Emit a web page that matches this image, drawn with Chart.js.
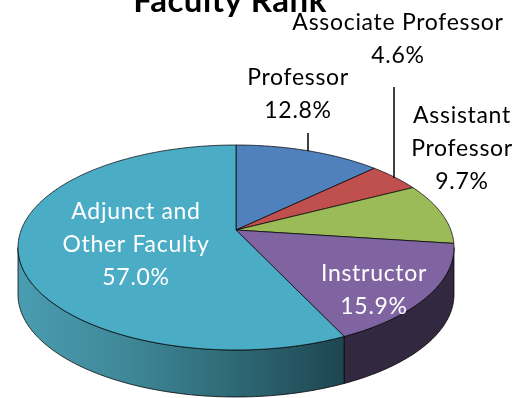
<!DOCTYPE html>
<html>
<head>
<meta charset="utf-8">
<script src="https://cdn.jsdelivr.net/npm/chart.js@4/dist/chart.umd.min.js"></script>
<style>
  html, body { margin: 0; padding: 0; background: #ffffff; }
  #wrap { width: 524px; height: 398px; }
</style>
</head>
<body>
<div id="wrap"><canvas id="c" width="524" height="398"></canvas></div>
<script>
// Faculty headcount share by rank (clockwise from 12 o'clock)
const categories = ['Professor', 'Associate Professor', 'Assistant Professor', 'Instructor', 'Adjunct and Other Faculty'];
const shares = [12.8, 4.6, 9.7, 15.9, 57.0];
const labelLines = [['Professor'], ['Associate Professor'], ['Assistant', 'Professor'], ['Instructor'], ['Adjunct and', 'Other Faculty']];

const topColors = ['#4f81bd', '#c0504d', '#9bbb59', '#8064a2', '#4bacc6'];
const labelInside = [false, false, false, true, true];

// 3-D view: vertex of the pie, half-axes, perspective factor and wall height
const VIEW = { px: 236, py: 230, a: 214.8, b: 99.5, k: 0.1707, depth: 47 };
// text anchors (centre of each label block) and line pitch
const LABEL_POS = [[298, 78], [398, 23], [462, 116], [374, 274], [136, 212]];
const LINE_H = 33;
const FONT = '23px Lato, "Open Sans", sans-serif';

function proj(phi, rho, dy) {
  const u = rho * Math.cos(phi), v = -rho * Math.sin(phi);
  const w = 1 + VIEW.k * v;
  return [VIEW.px + VIEW.a * u / w, VIEW.py - VIEW.b * v / w + (dy || 0)];
}

function arcPoints(s, e, dy) {
  const pts = [];
  const n = Math.max(2, Math.ceil(Math.abs(e - s) / (Math.PI / 240)));
  for (let i = 0; i <= n; i++) pts.push(proj(s + (e - s) * i / n, 1, dy));
  return pts;
}

function sideFill(ctx, idx) {
  if (idx === 4) {
    const g = ctx.createLinearGradient(17, 0, 343, 0);
    g.addColorStop(0, '#4a9db1');
    g.addColorStop(0.35, '#3e8797');
    g.addColorStop(0.7, '#2d6572');
    g.addColorStop(1, '#1e4650');
    return g;
  }
  if (idx === 3) return '#32283f';
  return topColors[idx];
}

const pie3d = {
  id: 'pie3d',
  beforeDatasetsDraw(chart) {
    const ctx = chart.ctx;
    const arcs = chart.getDatasetMeta(0).data;
    const silA = Math.asin(VIEW.k), silB = Math.PI - Math.asin(VIEW.k);
    ctx.save();
    ctx.lineJoin = 'round';
    // visible outer walls
    arcs.forEach((arc, i) => {
      const s = arc.startAngle, e = arc.endAngle;
      for (const off of [0, 2 * Math.PI, -2 * Math.PI]) {
        const ss = Math.max(s + off, silA), ee = Math.min(e + off, silB);
        if (ee <= ss) continue;
        const top = arcPoints(ss, ee, 0);
        const bot = arcPoints(ss, ee, VIEW.depth).reverse();
        ctx.beginPath();
        top.concat(bot).forEach((p, j) => j ? ctx.lineTo(p[0], p[1]) : ctx.moveTo(p[0], p[1]));
        ctx.closePath();
        ctx.fillStyle = sideFill(ctx, i);
        ctx.fill();
        ctx.strokeStyle = 'rgba(0,0,0,0.85)';
        ctx.lineWidth = 0.9;
        ctx.stroke();
      }
    });
    // top faces
    arcs.forEach((arc, i) => {
      const pts = arcPoints(arc.startAngle, arc.endAngle, 0);
      ctx.beginPath();
      ctx.moveTo(VIEW.px, VIEW.py);
      pts.forEach(p => ctx.lineTo(p[0], p[1]));
      ctx.closePath();
      ctx.fillStyle = topColors[i];
      ctx.fill();
      ctx.strokeStyle = 'rgba(0,0,0,0.8)';
      ctx.lineWidth = 0.9;
      ctx.stroke();
    });
    ctx.restore();
    return false;
  },
  afterDraw(chart) {
    const ctx = chart.ctx;
    ctx.save();
    // title
    ctx.fillStyle = '#000';
    ctx.font = 'bold 33px Lato, "Open Sans", sans-serif';
    ctx.letterSpacing = '0.5px';
    ctx.textAlign = 'center';
    ctx.textBaseline = 'alphabetic';
    ctx.fillText('Faculty Rank', 230, 12);
    // leader lines
    ctx.strokeStyle = '#000';
    ctx.lineWidth = 1.5;
    ctx.beginPath();
    ctx.moveTo(308, 133); ctx.lineTo(308, 151);
    ctx.moveTo(394, 87); ctx.lineTo(394, 178);
    ctx.stroke();
    // data labels
    ctx.font = FONT;
    ctx.letterSpacing = '0.7px';
    ctx.textBaseline = 'middle';
    shares.forEach((v, i) => {
      const lines = labelLines[i].concat([v.toFixed(1) + '%']);
      ctx.fillStyle = labelInside[i] ? '#ffffff' : '#000000';
      const [x, y] = LABEL_POS[i];
      lines.forEach((t, j) => ctx.fillText(t, x, y + j * LINE_H));
    });
    ctx.restore();
  }
};

new Chart(document.getElementById('c'), {
  type: 'pie',
  data: {
    labels: categories,
    datasets: [{ data: shares, backgroundColor: topColors, borderWidth: 0 }]
  },
  options: {
    responsive: false,
    devicePixelRatio: 1,
    animation: false,
    plugins: { legend: { display: false }, tooltip: { enabled: false }, title: { display: false } }
  },
  plugins: [pie3d]
});
</script>
</body>
</html>
